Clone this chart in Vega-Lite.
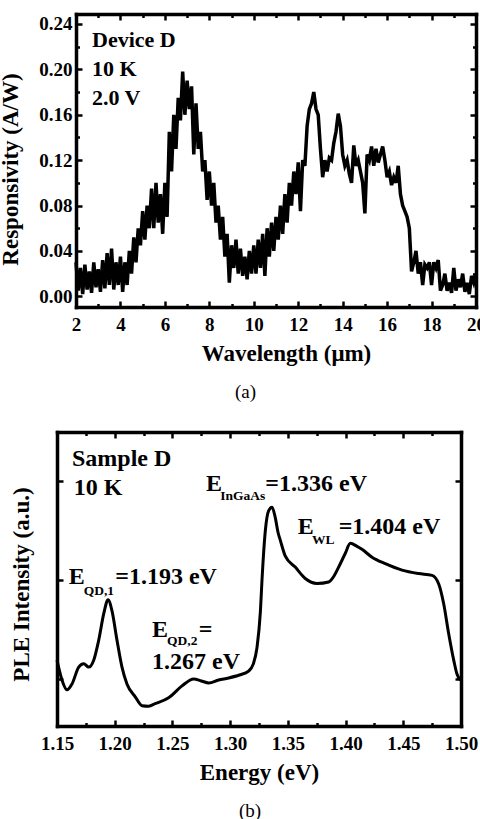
{
  "$schema": "https://vega.github.io/schema/vega-lite/v6.json",
  "background": "white",
  "padding": {"left": -1, "top": 12, "right": 0, "bottom": 0},
  "spacing": 28,
  "config": {
    "view": {"stroke": null},
    "font": "Liberation Serif",
    "axis": {
      "labelFont": "Liberation Serif", "labelFontWeight": "bold", "labelFontSize": 19, "labelColor": "black",
      "titleFont": "Liberation Serif", "titleFontWeight": "bold", "titleFontSize": 23, "titleColor": "black",
      "domainColor": "black", "domainWidth": 3.5, "domainCap": "square",
      "tickColor": "black", "tickWidth": 2.5, "grid": false,
      "labelFlush": false, "labelOverlap": false, "labelBound": false
    },
    "text": {"font": "Liberation Serif", "fontWeight": "bold", "color": "black"}
  },
  "datasets": {
    "resp": [
      {"wl":2.0,"r":0.03},{"wl":2.1,"r":0.005},{"wl":2.2,"r":0.025},{"wl":2.3,"r":0.002},{"wl":2.4,"r":0.028},{"wl":2.5,"r":0.006},{"wl":2.6,"r":0.022},{"wl":2.7,"r":0.003},{"wl":2.8,"r":0.03},{"wl":2.9,"r":0.008},
      {"wl":3.0,"r":0.024},{"wl":3.1,"r":0.004},{"wl":3.2,"r":0.032},{"wl":3.3,"r":0.007},{"wl":3.4,"r":0.038},{"wl":3.5,"r":0.01},{"wl":3.6,"r":0.042},{"wl":3.7,"r":0.006},{"wl":3.8,"r":0.03},{"wl":3.9,"r":0.01},
      {"wl":4.0,"r":0.035},{"wl":4.1,"r":0.004},{"wl":4.2,"r":0.03},{"wl":4.3,"r":0.01},{"wl":4.4,"r":0.04},{"wl":4.5,"r":0.02},{"wl":4.6,"r":0.052},{"wl":4.7,"r":0.03},{"wl":4.8,"r":0.06},{"wl":4.9,"r":0.045},
      {"wl":5.0,"r":0.075},{"wl":5.1,"r":0.05},{"wl":5.2,"r":0.08},{"wl":5.3,"r":0.06},{"wl":5.4,"r":0.095},{"wl":5.5,"r":0.06},{"wl":5.6,"r":0.1},{"wl":5.7,"r":0.065},{"wl":5.8,"r":0.09},{"wl":5.9,"r":0.055},
      {"wl":6.0,"r":0.1},{"wl":6.1,"r":0.07},{"wl":6.2,"r":0.145},{"wl":6.3,"r":0.11},{"wl":6.4,"r":0.16},{"wl":6.5,"r":0.13},{"wl":6.6,"r":0.175},{"wl":6.7,"r":0.155},{"wl":6.8,"r":0.198},{"wl":6.9,"r":0.16},
      {"wl":7.0,"r":0.19},{"wl":7.1,"r":0.165},{"wl":7.2,"r":0.185},{"wl":7.3,"r":0.125},{"wl":7.4,"r":0.17},{"wl":7.5,"r":0.13},{"wl":7.6,"r":0.145},{"wl":7.7,"r":0.11},{"wl":7.8,"r":0.12},{"wl":7.9,"r":0.085},
      {"wl":8.0,"r":0.11},{"wl":8.1,"r":0.08},{"wl":8.2,"r":0.1},{"wl":8.3,"r":0.065},{"wl":8.4,"r":0.08},{"wl":8.5,"r":0.05},{"wl":8.6,"r":0.07},{"wl":8.7,"r":0.035},{"wl":8.8,"r":0.055},{"wl":8.9,"r":0.012},
      {"wl":9.0,"r":0.045},{"wl":9.1,"r":0.025},{"wl":9.2,"r":0.05},{"wl":9.3,"r":0.02},{"wl":9.4,"r":0.042},{"wl":9.5,"r":0.018},{"wl":9.6,"r":0.035},{"wl":9.7,"r":0.015},{"wl":9.8,"r":0.04},{"wl":9.9,"r":0.02},
      {"wl":10.0,"r":0.045},{"wl":10.1,"r":0.02},{"wl":10.2,"r":0.05},{"wl":10.3,"r":0.025},{"wl":10.4,"r":0.055},{"wl":10.5,"r":0.018},{"wl":10.6,"r":0.06},{"wl":10.7,"r":0.035},{"wl":10.8,"r":0.065},{"wl":10.9,"r":0.04},
      {"wl":11.0,"r":0.07},{"wl":11.1,"r":0.05},{"wl":11.2,"r":0.08},{"wl":11.3,"r":0.055},{"wl":11.4,"r":0.09},{"wl":11.5,"r":0.065},{"wl":11.6,"r":0.1},{"wl":11.7,"r":0.08},{"wl":11.8,"r":0.11},{"wl":11.9,"r":0.09},
      {"wl":12.0,"r":0.118},{"wl":12.1,"r":0.075},{"wl":12.2,"r":0.12},{"wl":12.3,"r":0.115},{"wl":12.4,"r":0.15},{"wl":12.5,"r":0.165},{"wl":12.6,"r":0.17},{"wl":12.7,"r":0.18},{"wl":12.8,"r":0.165},{"wl":12.9,"r":0.16},
      {"wl":13.0,"r":0.13},{"wl":13.1,"r":0.105},{"wl":13.2,"r":0.12},{"wl":13.3,"r":0.11},{"wl":13.4,"r":0.122},{"wl":13.5,"r":0.12},{"wl":13.6,"r":0.135},{"wl":13.7,"r":0.145},{"wl":13.8,"r":0.161},{"wl":13.9,"r":0.15},
      {"wl":14.0,"r":0.125},{"wl":14.1,"r":0.115},{"wl":14.2,"r":0.12},{"wl":14.3,"r":0.108},{"wl":14.4,"r":0.1},{"wl":14.5,"r":0.133},{"wl":14.6,"r":0.115},{"wl":14.7,"r":0.12},{"wl":14.8,"r":0.11},{"wl":14.9,"r":0.1},
      {"wl":15.0,"r":0.073},{"wl":15.1,"r":0.125},{"wl":15.2,"r":0.12},{"wl":15.3,"r":0.132},{"wl":15.4,"r":0.115},{"wl":15.5,"r":0.13},{"wl":15.6,"r":0.118},{"wl":15.7,"r":0.125},{"wl":15.8,"r":0.132},{"wl":15.9,"r":0.12},
      {"wl":16.0,"r":0.105},{"wl":16.1,"r":0.11},{"wl":16.2,"r":0.098},{"wl":16.3,"r":0.105},{"wl":16.4,"r":0.1},{"wl":16.5,"r":0.115},{"wl":16.6,"r":0.09},{"wl":16.7,"r":0.08},{"wl":16.8,"r":0.075},{"wl":16.9,"r":0.07},
      {"wl":17.0,"r":0.06},{"wl":17.1,"r":0.022},{"wl":17.2,"r":0.03},{"wl":17.3,"r":0.04},{"wl":17.4,"r":0.02},{"wl":17.5,"r":0.03},{"wl":17.6,"r":0.01},{"wl":17.7,"r":0.028},{"wl":17.8,"r":0.025},{"wl":17.9,"r":0.03},
      {"wl":18.0,"r":0.01},{"wl":18.1,"r":0.03},{"wl":18.2,"r":0.025},{"wl":18.3,"r":0.032},{"wl":18.4,"r":0.005},{"wl":18.5,"r":0.01},{"wl":18.6,"r":0.02},{"wl":18.7,"r":0.005},{"wl":18.8,"r":0.012},{"wl":18.9,"r":0.003},
      {"wl":19.0,"r":0.025},{"wl":19.1,"r":0.005},{"wl":19.2,"r":0.015},{"wl":19.3,"r":0.008},{"wl":19.4,"r":0.02},{"wl":19.5,"r":0.004},{"wl":19.6,"r":0.012},{"wl":19.7,"r":0.002},{"wl":19.8,"r":0.018},{"wl":19.9,"r":0.012},
      {"wl":20.0,"r":0.02}
    ],
    "ple": [
      {"e":1.1500,"v":1.19},{"e":1.1543,"v":0.99},{"e":1.1587,"v":0.89},{"e":1.1630,"v":0.95},{"e":1.1688,"v":1.12},{"e":1.1731,"v":1.155},{"e":1.1775,"v":1.12},{"e":1.1818,"v":1.19},{"e":1.1861,"v":1.39},{"e":1.1905,"v":1.66},
      {"e":1.1942,"v":1.80},{"e":1.1976,"v":1.69},{"e":1.2020,"v":1.39},{"e":1.2063,"v":1.12},{"e":1.2106,"v":0.95},{"e":1.2178,"v":0.82},{"e":1.2236,"v":0.73},{"e":1.2294,"v":0.725},{"e":1.2350,"v":0.75},{"e":1.2467,"v":0.81},
      {"e":1.2583,"v":0.93},{"e":1.2684,"v":1.00},{"e":1.2750,"v":0.98},{"e":1.2814,"v":0.96},{"e":1.2900,"v":0.99},{"e":1.2987,"v":1.01},{"e":1.3080,"v":1.04},{"e":1.3160,"v":1.08},{"e":1.3200,"v":1.15},{"e":1.3233,"v":1.32},
      {"e":1.3262,"v":1.68},{"e":1.3276,"v":2.00},{"e":1.3305,"v":2.50},{"e":1.3334,"v":2.70},{"e":1.3363,"v":2.735},{"e":1.3391,"v":2.63},{"e":1.3415,"v":2.48},{"e":1.3435,"v":2.40},{"e":1.3478,"v":2.24},{"e":1.3564,"v":2.13},
      {"e":1.3651,"v":2.015},{"e":1.3752,"v":1.965},{"e":1.3854,"v":1.98},{"e":1.3900,"v":2.04},{"e":1.3940,"v":2.13},{"e":1.3998,"v":2.27},{"e":1.4041,"v":2.37},{"e":1.4099,"v":2.34},{"e":1.4142,"v":2.31},{"e":1.4229,"v":2.23},
      {"e":1.4344,"v":2.165},{"e":1.4489,"v":2.10},{"e":1.4633,"v":2.065},{"e":1.4749,"v":2.047},{"e":1.4807,"v":1.96},{"e":1.4850,"v":1.76},{"e":1.4893,"v":1.46},{"e":1.4937,"v":1.19},{"e":1.4965,"v":1.05},{"e":1.4994,"v":0.99}
    ],
    "annA": [
      {"x":2.72,"y":0.220,"t":"Device D"},
      {"x":2.72,"y":0.194,"t":"10 K"},
      {"x":2.72,"y":0.169,"t":"2.0 V"}
    ],
    "annB": [
      {"x":1.163,"y":3.152,"t":"Sample D"},
      {"x":1.1645,"y":2.859,"t":"10 K"},
      {"x":1.2791,"y":2.899,"t":"E"},
      {"x":1.3305,"y":2.899,"t":"=1.336 eV"},
      {"x":1.3585,"y":2.468,"t":"E"},
      {"x":1.3940,"y":2.468,"t":"=1.404 eV"},
      {"x":1.1601,"y":1.963,"t":"E"},
      {"x":1.2005,"y":1.963,"t":"=1.193 eV"},
      {"x":1.2323,"y":1.424,"t":"E"},
      {"x":1.2728,"y":1.424,"t":"="},
      {"x":1.2323,"y":1.101,"t":"1.267 eV"}
    ],
    "annBsub": [
      {"x":1.2915,"y":2.808,"t":"InGaAs"},
      {"x":1.3709,"y":2.367,"t":"WL"},
      {"x":1.1731,"y":1.848,"t":"QD,1"},
      {"x":1.2453,"y":1.343,"t":"QD,2"}
    ]
  },
  "vconcat": [
    {
      "width": 419,
      "height": 293,
      "title": {"text": "(a)", "orient": "bottom", "frame": "group", "anchor": "middle", "dx": -21, "offset": 18, "fontSize": 19, "font": "Liberation Serif", "fontWeight": "normal", "color": "black"},
      "resolve": {"axis": {"x": "independent", "y": "independent"}},
      "layer": [
        {
          "data": {"name": "resp"},
          "mark": {"type": "line", "color": "black", "strokeWidth": 3.5},
          "encoding": {
            "x": {"field": "wl", "type": "quantitative",
              "scale": {"domain": [2, 20], "range": [19, 419], "nice": false, "zero": false},
              "axis": {"orient": "bottom", "values": [2,4,6,8,10,12,14,16,18,20], "format": "d", "tickSize": -6, "labelPadding": 14, "title": "Wavelength (μm)", "titlePadding": 8, "titleX": 229}},
            "y": {"field": "r", "type": "quantitative",
              "scale": {"domain": [-0.0094, 0.2488], "nice": false, "zero": false},
              "axis": {"orient": "left", "offset": -19, "values": [0,0.04,0.08,0.12,0.16,0.2,0.24], "format": ".2f", "tickSize": -6, "labelPadding": 10, "title": "Responsivity (A/W)", "titlePadding": 16, "titleY": 155}}
          }
        },
        {
          "data": {"name": "resp"},
          "mark": {"type": "point", "opacity": 0},
          "encoding": {
            "x": {"field": "wl", "type": "quantitative", "axis": {"orient": "top", "values": [2,4,6,8,10,12,14,16,18,20], "labels": false, "tickSize": -6, "title": null}},
            "y": {"field": "r", "type": "quantitative", "axis": {"orient": "right", "values": [0,0.04,0.08,0.12,0.16,0.2,0.24], "labels": false, "tickSize": -6, "title": null}}
          }
        },
        {
          "data": {"name": "resp"},
          "mark": {"type": "point", "opacity": 0},
          "encoding": {
            "x": {"field": "wl", "type": "quantitative", "axis": {"orient": "bottom", "values": [3,5,7,9,11,13,15,17,19], "labels": false, "domain": false, "tickSize": -3.5, "title": null}},
            "y": {"field": "r", "type": "quantitative", "axis": {"orient": "left", "offset": -19, "values": [0.02,0.06,0.1,0.14,0.18,0.22], "labels": false, "domain": false, "tickSize": -3.5, "title": null}}
          }
        },
        {
          "data": {"name": "resp"},
          "mark": {"type": "point", "opacity": 0},
          "encoding": {
            "x": {"field": "wl", "type": "quantitative", "axis": {"orient": "top", "values": [3,5,7,9,11,13,15,17,19], "labels": false, "domain": false, "tickSize": -3.5, "title": null}},
            "y": {"field": "r", "type": "quantitative", "axis": {"orient": "right", "values": [0.02,0.06,0.1,0.14,0.18,0.22], "labels": false, "domain": false, "tickSize": -3.5, "title": null}}
          }
        },
        {
          "data": {"name": "annA"},
          "mark": {"type": "text", "align": "left", "baseline": "alphabetic", "fontSize": 22, "fontWeight": "bold", "font": "Liberation Serif", "color": "black"},
          "encoding": {
            "x": {"field": "x", "type": "quantitative", "axis": null},
            "y": {"field": "y", "type": "quantitative", "axis": null},
            "text": {"field": "t"}
          }
        }
      ]
    },
    {
      "width": 404,
      "height": 294,
      "title": {"text": "(b)", "orient": "bottom", "frame": "group", "anchor": "middle", "dx": -9, "offset": 18, "fontSize": 19, "font": "Liberation Serif", "fontWeight": "normal", "color": "black"},
      "resolve": {"axis": {"x": "independent", "y": "independent"}},
      "layer": [
        {
          "data": {"name": "ple"},
          "mark": {"type": "line", "color": "black", "strokeWidth": 3, "interpolate": "monotone"},
          "encoding": {
            "x": {"field": "e", "type": "quantitative",
              "scale": {"domain": [1.15, 1.5], "nice": false, "zero": false},
              "axis": {"orient": "bottom", "values": [1.15,1.2,1.25,1.3,1.35,1.4,1.45,1.5], "format": ".2f", "tickSize": -6, "labelPadding": 14, "title": "Energy (eV)", "titlePadding": 8}},
            "y": {"field": "v", "type": "quantitative",
              "scale": {"domain": [0.525, 3.495], "nice": false, "zero": false},
              "axis": {"orient": "left", "values": [1, 2, 3], "labels": false, "tickSize": -6, "title": "PLE Intensity (a.u.)", "titlePadding": 22, "titleY": 152}}
          }
        },
        {
          "data": {"name": "ple"},
          "mark": {"type": "point", "opacity": 0},
          "encoding": {
            "x": {"field": "e", "type": "quantitative", "axis": {"orient": "top", "values": [1.15,1.2,1.25,1.3,1.35,1.4,1.45,1.5], "labels": false, "tickSize": -6, "title": null}},
            "y": {"field": "v", "type": "quantitative", "axis": {"orient": "right", "values": [1, 2, 3], "labels": false, "tickSize": -6, "title": null}}
          }
        },
        {
          "data": {"name": "ple"},
          "mark": {"type": "point", "opacity": 0},
          "encoding": {
            "x": {"field": "e", "type": "quantitative", "axis": {"orient": "bottom", "values": [1.175,1.225,1.275,1.325,1.375,1.425,1.475], "labels": false, "domain": false, "tickSize": -3.5, "title": null}},
            "y": {"field": "v", "type": "quantitative", "axis": null}
          }
        },
        {
          "data": {"name": "ple"},
          "mark": {"type": "point", "opacity": 0},
          "encoding": {
            "x": {"field": "e", "type": "quantitative", "axis": {"orient": "top", "values": [1.175,1.225,1.275,1.325,1.375,1.425,1.475], "labels": false, "domain": false, "tickSize": -3.5, "title": null}},
            "y": {"field": "v", "type": "quantitative", "axis": null}
          }
        },
        {
          "data": {"name": "annB"},
          "mark": {"type": "text", "align": "left", "baseline": "alphabetic", "fontSize": 24, "fontWeight": "bold", "font": "Liberation Serif", "color": "black"},
          "encoding": {
            "x": {"field": "x", "type": "quantitative", "axis": null},
            "y": {"field": "y", "type": "quantitative", "axis": null},
            "text": {"field": "t"}
          }
        },
        {
          "data": {"name": "annBsub"},
          "mark": {"type": "text", "align": "left", "baseline": "alphabetic", "fontSize": 13.5, "fontWeight": "bold", "font": "Liberation Serif", "color": "black"},
          "encoding": {
            "x": {"field": "x", "type": "quantitative", "axis": null},
            "y": {"field": "y", "type": "quantitative", "axis": null},
            "text": {"field": "t"}
          }
        }
      ]
    }
  ]
}
